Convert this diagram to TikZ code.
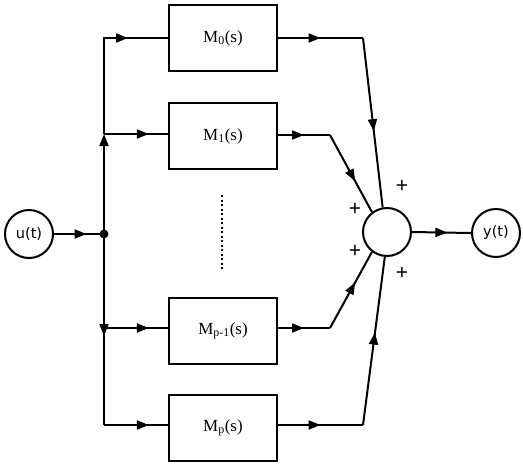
\documentclass[tikz,border=0pt]{standalone}
\usepackage{fontspec}
\setmainfont{Liberation Serif}
\newfontfamily\sansf{DejaVu Sans}
\newfontfamily\plusf{Liberation Sans}
\usetikzlibrary{arrows.meta,decorations.markings}
\begin{document}
\begin{tikzpicture}[x=1pt,y=-1pt,
  line width=2pt,
  tip/.style={-{Triangle[length=12pt,width=9pt]}},
  midarrow/.style={postaction={decorate},decoration={markings,mark=at position #1 with {\arrow{Triangle[length=12pt,width=9pt]}}}},
  blk/.style={draw,rectangle,minimum width=108pt,minimum height=66pt,inner sep=0pt,font=\fontsize{17}{19}\selectfont},
  io/.style={draw,circle,minimum size=48pt,inner sep=0pt,font=\sansf\fontsize{14.5}{16}\selectfont},
  plus/.style={font=\plusf\fontsize{21}{22}\selectfont,inner sep=0pt}]
\useasboundingbox (0,0) rectangle (523,467);
% nodes
\node[io] (u) at (29,234) {u(t)};
\node[io] (y) at (496,233) {y(t)};
\node[draw,circle,minimum size=48pt,inner sep=0pt] (sum) at (387,232) {};
\node[blk] (m0) at (223,38) {M\textsubscript{0}(s)};
\node[blk] (m1) at (223,136) {M\textsubscript{1}(s)};
\node[blk] (mp1) at (223,331) {M\textsubscript{p-1}(s)};
\node[blk] (mp) at (223,428) {M\textsubscript{p}(s)};
\fill (104,234) circle (4.5pt) coordinate (j);
% branch coordinates
\coordinate (b0) at (104,38);
\coordinate (b1) at (104,134);
\coordinate (b2) at (104,328);
\coordinate (b3) at (104,425);
\coordinate (c0) at (363,38);
\coordinate (c1) at (330,135);
\coordinate (c2) at (330,328);
\coordinate (c3) at (363,425);
% input
\draw[midarrow=0.65] (u.east) -- (j);
\draw[tip] (j) -- (b1);
\draw[midarrow=0.75] (b1) -- (b0) -- (m0.west |- b0);
\draw[midarrow=0.7] (b1) -- (m1.west |- b1);
\draw[tip] (j) -- (104,336);
\draw (104,330) -- (b3);
\draw[midarrow=0.7] (b2) -- (mp1.west |- b2);
\draw[midarrow=0.7] (b3) -- (mp.west |- b3);
% outputs
\draw[midarrow=0.5] (m0.east |- c0) -- (c0);
\draw[midarrow=0.55] (c0) -- (sum.100);
\draw[midarrow=0.5] (m1.east |- c1) -- (c1);
\draw[midarrow=0.6] (c1) -- (sum.127);
\draw[midarrow=0.5] (mp1.east |- c2) -- (c2);
\draw[midarrow=0.6] (c2) -- (sum.233);
\draw[midarrow=0.5] (mp.east |- c3) -- (c3);
\draw[midarrow=0.55] (c3) -- (sum.265);
\draw[midarrow=0.6] (sum.east) -- (y.west);
% dots
\draw[line width=1.6pt,dash pattern=on 2pt off 2.5pt] (222,195) -- (222,270);
% plus signs
\node[plus] at (402,186) {+};
\node[plus] at (355,209) {+};
\node[plus] at (355,251) {+};
\node[plus] at (402,273) {+};
\end{tikzpicture}
\end{document}
